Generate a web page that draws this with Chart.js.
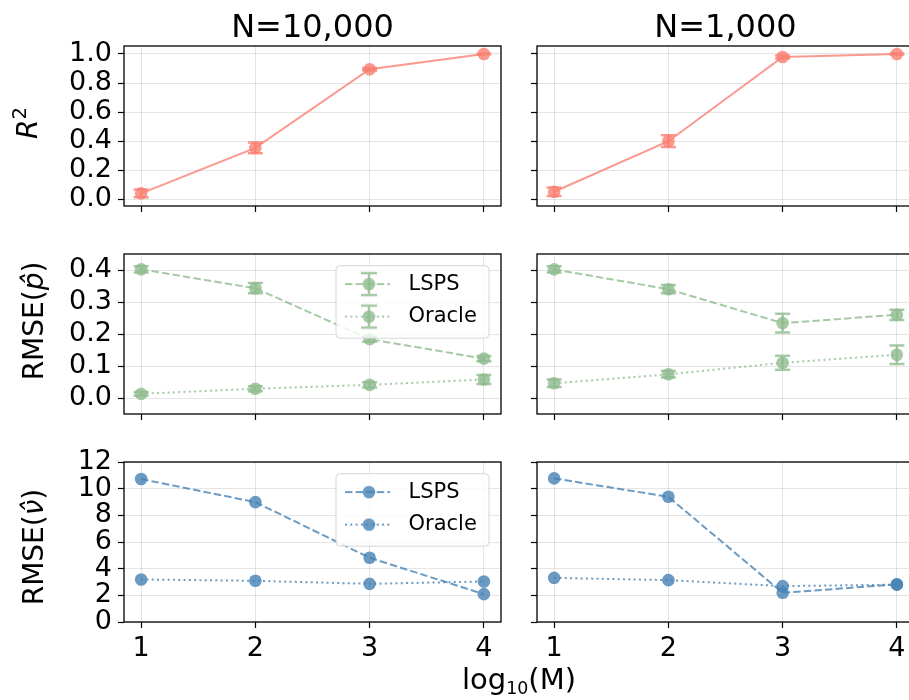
<!DOCTYPE html>
<html><head><meta charset="utf-8">
<script src="https://cdn.jsdelivr.net/npm/chart.js@4/dist/chart.umd.min.js"></script>
<style>
html,body{margin:0;padding:0;background:#fff;overflow:hidden;width:909px;height:700px;}
#wrap{position:relative;width:909px;height:700px;overflow:hidden;font-family:'DejaVu Sans',sans-serif;color:#000;}
canvas{position:absolute;}
.t{position:absolute;white-space:nowrap;line-height:1;font-family:'DejaVu Sans',sans-serif;color:#000;}
.ctr{transform:translateX(-50%);}
.rot{transform:translate(-50%,-50%) rotate(-90deg);}
</style></head>
<body><div id="wrap">
<div class="t ctr" style="left:312.5px;top:9.6px;font-size:32px;">N=10,000</div>
<div class="t ctr" style="left:725.5px;top:9.6px;font-size:32px;">N=1,000</div>
<div class="t rot" style="left:27.6px;top:122.5px;font-size:28px;"><i>R</i><span style="font-size:0.7em;position:relative;top:-0.55em;">2</span></div>
<div class="t rot" style="left:33.6px;top:320.8px;font-size:28px;">RMSE(<i>p&#770;</i>)</div>
<div class="t rot" style="left:33.6px;top:546.7px;font-size:28px;">RMSE(<i>&#957;&#770;</i>)</div>
<div class="t ctr" style="left:519px;top:664.8px;font-size:29px;">log<span style="font-size:0.6em;position:relative;top:0.3em;">10</span>(M)</div>
</div>
<script>
// ---------------- data ----------------
const logM = [1, 2, 3, 4];
const xTicks = [1, 2, 3, 4];
const r2Ticks = [0.0, 0.2, 0.4, 0.6, 0.8, 1.0];
const pTicks = [0.0, 0.1, 0.2, 0.3, 0.4];
const nuTicks = [0, 2, 4, 6, 8, 10, 12];
const seriesNames = ['LSPS', 'Oracle'];

const r2_N10000 = [0.041, 0.354, 0.895, 1.0];
const r2_N10000_err = [0.027, 0.037, 0.008, 0.002];
const r2_N1000 = [0.052, 0.400, 0.979, 1.0];
const r2_N1000_err = [0.029, 0.040, 0.010, 0.003];

const pLSPS_N10000 = [0.403, 0.344, 0.185, 0.124];
const pLSPS_N10000_err = [0.010, 0.016, 0.008, 0.008];
const pOracle_N10000 = [0.014, 0.030, 0.042, 0.059];
const pOracle_N10000_err = [0.006, 0.008, 0.008, 0.014];
const pLSPS_N1000 = [0.403, 0.341, 0.235, 0.261];
const pLSPS_N1000_err = [0.010, 0.013, 0.029, 0.016];
const pOracle_N1000 = [0.047, 0.075, 0.111, 0.136];
const pOracle_N1000_err = [0.012, 0.010, 0.022, 0.029];

const nuLSPS_N10000 = [10.72, 8.99, 4.82, 2.09];
const nuOracle_N10000 = [3.19, 3.09, 2.86, 3.04];
const nuLSPS_N1000 = [10.77, 9.39, 2.19, 2.82];
const nuOracle_N1000 = [3.31, 3.14, 2.69, 2.80];

// ---------------- styles / layout ----------------
const SALMON = 'rgba(250,128,114,0.8)';
const GREEN = 'rgba(143,188,143,0.8)';
const BLUE = 'rgba(70,130,180,0.8)';
const DASHED = [7.4, 3.2];
const DOTTED = [2, 3.3];
const GRID = 'rgba(0,0,0,0.1)';
const FONT = "'DejaVu Sans', sans-serif";
const TICK_SIZE = 27;
Chart.defaults.font.family = FONT;
Chart.defaults.color = '#000';

const COLS = [
  {canvasLeft: 0, yW: 124, showY: true},
  {canvasLeft: 500, yW: 37, showY: false}
];
const ROWS = [
  {plotTop: 46, xH: 25, showX: false},
  {plotTop: 254, xH: 25, showX: false},
  {plotTop: 462, xH: 45, showX: true}
];
const PW = 377, PH = 160, PAD_T = 25, PAD_R = 20;
const LEG = {inR: 12, inT: 11.7, w: 153, h: 72.5, pad: 11.5, handleOff: 9};

const wrap = document.getElementById('wrap');

function toPts(arr) { return logM.map((x, i) => ({x: x, y: arr[i]})); }

function makeHandle(color, dash, withErr) {
  const c = document.createElement('canvas');
  c.width = 53; c.height = 28;
  const g = c.getContext('2d');
  g.strokeStyle = color; g.lineWidth = 2; g.setLineDash(dash);
  g.beginPath(); g.moveTo(0, 14); g.lineTo(45, 14); g.stroke();
  g.setLineDash([]);
  if (withErr) {
    g.lineWidth = 2.5;
    g.beginPath();
    g.moveTo(24, 3); g.lineTo(24, 25);
    g.moveTo(16, 3); g.lineTo(32, 3);
    g.moveTo(16, 25); g.lineTo(32, 25);
    g.stroke();
  }
  g.fillStyle = color;
  g.beginPath(); g.arc(24, 14, 6.3, 0, Math.PI * 2); g.fill();
  return c;
}

const errorBars = {
  id: 'errorBars',
  beforeDatasetsDraw(chart) {
    const ctx = chart.ctx, xs = chart.scales.x, ys = chart.scales.y;
    ctx.save();
    chart.data.datasets.forEach(ds => {
      if (!ds.errors) return;
      ctx.strokeStyle = ds.borderColor; ctx.lineWidth = 2.5; ctx.setLineDash([]);
      ctx.beginPath();
      ds.data.forEach((p, i) => {
        const e = ds.errors[i];
        const x = xs.getPixelForValue(p.x);
        const y1 = ys.getPixelForValue(p.y - e), y2 = ys.getPixelForValue(p.y + e);
        ctx.moveTo(x, y1); ctx.lineTo(x, y2);
        ctx.moveTo(x - 7.5, y1); ctx.lineTo(x + 7.5, y1);
        ctx.moveTo(x - 7.5, y2); ctx.lineTo(x + 7.5, y2);
      });
      ctx.stroke();
    });
    ctx.restore();
  }
};

const frame = {
  id: 'frame',
  afterDatasetsDraw(chart) {
    const {left, top, right, bottom} = chart.chartArea;
    const ctx = chart.ctx;
    ctx.save();
    ctx.strokeStyle = '#000'; ctx.lineWidth = 1.3; ctx.setLineDash([]);
    ctx.strokeRect(left, top, right - left, bottom - top);
    ctx.restore();
  }
};

function legendFrameRect(chart) {
  const ca = chart.chartArea;
  return {x: ca.right - LEG.inR - LEG.w, y: ca.top + LEG.inT, w: LEG.w, h: LEG.h};
}

const legendPlacer = {
  id: 'legendPlacer',
  beforeLayout(chart) {
    const lg = chart.legend;
    if (lg && !lg._patched) {
      lg._patched = true;
      lg._layers = () => [{
        z: 10,
        draw: (ca) => {
          if (!lg.options.display) return;
          const r = legendFrameRect(chart);
          const ctx = chart.ctx;
          ctx.save();
          ctx.beginPath();
          ctx.roundRect(r.x, r.y, r.w, r.h, 4);
          ctx.fillStyle = 'rgba(255,255,255,0.8)';
          ctx.fill();
          ctx.strokeStyle = 'rgba(204,204,204,0.8)';
          ctx.lineWidth = 1;
          ctx.stroke();
          ctx.restore();
          lg.draw(ca);
        }
      }];
    }
  },
  afterLayout(chart) {
    const lg = chart.legend;
    if (!lg || !lg.options.display) return;
    const r = legendFrameRect(chart);
    lg.left = r.x + LEG.handleOff - LEG.pad;
    lg.top = r.y + 18.4 - LEG.pad - 10.5;
    lg.width = r.w + 20; lg.height = r.h + 40;
    lg.right = lg.left + lg.width; lg.bottom = lg.top + lg.height;
  }
};

function legendCfg(color, withErr) {
  const handles = [makeHandle(color, DASHED, withErr), makeHandle(color, DOTTED, withErr)];
  return {
    display: true,
    position: 'chartArea',
    align: 'start',
    labels: {
      usePointStyle: true,
      pointStyleWidth: 53,
      padding: LEG.pad,
      textAlign: 'left',
      color: '#000',
      font: {size: 21, family: FONT},
      generateLabels: () => seriesNames.map((name, i) => ({
        text: name, pointStyle: handles[i], fillStyle: color, strokeStyle: color,
        lineWidth: 0, hidden: false, datasetIndex: i, fontColor: '#000'
      }))
    }
  };
}

function lineDs(label, vals, errs, color, dash) {
  const ds = {
    label: label, data: toPts(vals),
    borderColor: color, backgroundColor: color,
    pointBackgroundColor: color, pointBorderWidth: 0, pointRadius: 6.3,
    borderWidth: 2, borderDash: dash, tension: 0, fill: false
  };
  if (errs) ds.errors = errs;
  return ds;
}

function panel(col, row, datasets, yMin, yMax, yTicks, yFmt, legend) {
  const C = COLS[col], R = ROWS[row];
  const cv = document.createElement('canvas');
  const w = C.yW + PW + PAD_R, h = PAD_T + PH + R.xH;
  cv.width = w; cv.height = h;
  cv.style.left = C.canvasLeft + 'px';
  cv.style.top = (R.plotTop - PAD_T) + 'px';
  cv.style.width = w + 'px'; cv.style.height = h + 'px';
  wrap.insertBefore(cv, wrap.firstChild);
  const gridCfg = {color: GRID, lineWidth: 1, tickColor: '#000', tickLength: 6, tickWidth: 1.2};
  new Chart(cv, {
    type: 'line',
    data: {datasets: datasets},
    options: {
      responsive: false, maintainAspectRatio: false, animation: false,
      devicePixelRatio: 1, events: [],
      layout: {padding: {top: PAD_T, right: PAD_R, left: 0, bottom: 0}},
      scales: {
        x: {
          type: 'linear', min: 0.85, max: 4.15,
          afterBuildTicks: s => { s.ticks = xTicks.map(v => ({value: v})); },
          afterFit: s => { s.height = R.xH; },
          grid: gridCfg, border: {display: false},
          ticks: {padding: 5, font: {size: TICK_SIZE}, color: '#000', maxRotation: 0, autoSkip: false,
                  callback: v => R.showX ? String(v) : ''}
        },
        y: {
          type: 'linear', min: yMin, max: yMax,
          afterBuildTicks: s => { s.ticks = yTicks.map(v => ({value: v})); },
          afterFit: s => { s.width = C.yW; },
          grid: gridCfg, border: {display: false},
          ticks: {padding: 6, font: {size: TICK_SIZE}, color: '#000', autoSkip: false,
                  callback: v => C.showY ? yFmt(v) : ''}
        }
      },
      plugins: {
        legend: legend || {display: false},
        tooltip: {enabled: false},
        title: {display: false}
      }
    },
    plugins: [errorBars, frame, legendPlacer]
  });
}

const f1 = v => Number(v).toFixed(1);
const f0 = v => String(Math.round(v));

// Row 1: R^2
panel(0, 0, [lineDs('R2', r2_N10000, r2_N10000_err, SALMON, [])], -0.046, 1.055, r2Ticks, f1);
panel(1, 0, [lineDs('R2', r2_N1000, r2_N1000_err, SALMON, [])], -0.046, 1.055, r2Ticks, f1);
// Row 2: RMSE(p)
panel(0, 1, [
  lineDs('LSPS', pLSPS_N10000, pLSPS_N10000_err, GREEN, DASHED),
  lineDs('Oracle', pOracle_N10000, pOracle_N10000_err, GREEN, DOTTED)
], -0.049, 0.451, pTicks, f1, legendCfg(GREEN, true));
panel(1, 1, [
  lineDs('LSPS', pLSPS_N1000, pLSPS_N1000_err, GREEN, DASHED),
  lineDs('Oracle', pOracle_N1000, pOracle_N1000_err, GREEN, DOTTED)
], -0.049, 0.451, pTicks, f1);
// Row 3: RMSE(nu)
panel(0, 2, [
  lineDs('LSPS', nuLSPS_N10000, null, BLUE, DASHED),
  lineDs('Oracle', nuOracle_N10000, null, BLUE, DOTTED)
], 0, 12, nuTicks, f0, legendCfg(BLUE, false));
panel(1, 2, [
  lineDs('LSPS', nuLSPS_N1000, null, BLUE, DASHED),
  lineDs('Oracle', nuOracle_N1000, null, BLUE, DOTTED)
], 0, 12, nuTicks, f0);
</script>
</body></html>
